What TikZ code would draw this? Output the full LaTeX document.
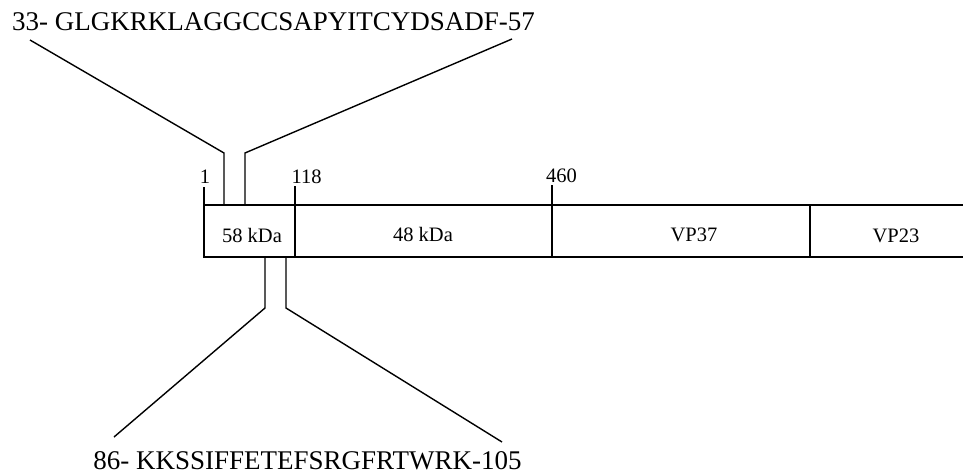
\documentclass[tikz,border=0pt]{standalone}
\usepackage{fontspec}
\setmainfont{Liberation Serif}
\begin{document}
\begin{tikzpicture}[x=1pt,y=-1pt,
  seqtext/.style={inner sep=0pt,anchor=base,font=\fontsize{27}{30}\selectfont},
  lbl/.style={inner sep=0pt,anchor=base,font=\fontsize{20.5}{24}\selectfont},
  boxline/.style={line width=1.7pt},
  conn/.style={line width=1.4pt,line join=miter}]
\useasboundingbox (0,0) rectangle (963,474);
% coordinates of the box
\coordinate (tl) at (204,205);
\coordinate (bl) at (204,257);
\coordinate (tr) at (963,205);
\coordinate (br) at (963,257);
\coordinate (d1t) at (295,205); \coordinate (d1b) at (295,257);
\coordinate (d2t) at (552,205); \coordinate (d2b) at (552,257);
\coordinate (d3t) at (810,205); \coordinate (d3b) at (810,257);
\coordinate (t0) at (204,187);
\coordinate (t1) at (295,186);
\coordinate (t2) at (552,185);
% box
\draw[boxline] (tr) -- (tl) -- (bl) -- (br);
\draw[boxline] (d1t) -- (d1b);
\draw[boxline] (d2t) -- (d2b);
\draw[boxline] (d3t) -- (d3b);
\draw[boxline] (t0) -- (tl);
\draw[boxline] (t1) -- (d1t);
\draw[boxline] (t2) -- (d2t);
% labels
\node[lbl] (n1) at (205,183) {1};
\node[lbl] (n118) at (306.5,183) {118};
\node[lbl] (n460) at (561.5,182) {460};
\node[lbl] (k58) at (252,242) {58 kDa};
\node[lbl] (k48) at (423,241) {48 kDa};
\node[lbl] (vp37) at (694,241) {VP37};
\node[lbl] (vp23) at (896,242) {VP23};
% sequences
\node[seqtext] (seqA) at (273.5,30) {33- GLGKRKLAGGCCSAPYITCYDSADF-57};
\node[seqtext] (seqB) at (307.5,469) {86- KKSSIFFETEFSRGFRTWRK-105};
% connector points
\coordinate (a1) at (30,40);  \coordinate (a2) at (224,153); \coordinate (a3) at (224,205);
\coordinate (b1) at (512,39); \coordinate (b2) at (245,153); \coordinate (b3) at (245,205);
\coordinate (c1) at (114,437); \coordinate (c2) at (265,308); \coordinate (c3) at (265,257);
\coordinate (e1) at (502,442); \coordinate (e2) at (286,308); \coordinate (e3) at (286,257);
\draw[conn] (a1) -- (a2) -- (a3);
\draw[conn] (b1) -- (b2) -- (b3);
\draw[conn] (c1) -- (c2) -- (c3);
\draw[conn] (e1) -- (e2) -- (e3);
\end{tikzpicture}
\end{document}
